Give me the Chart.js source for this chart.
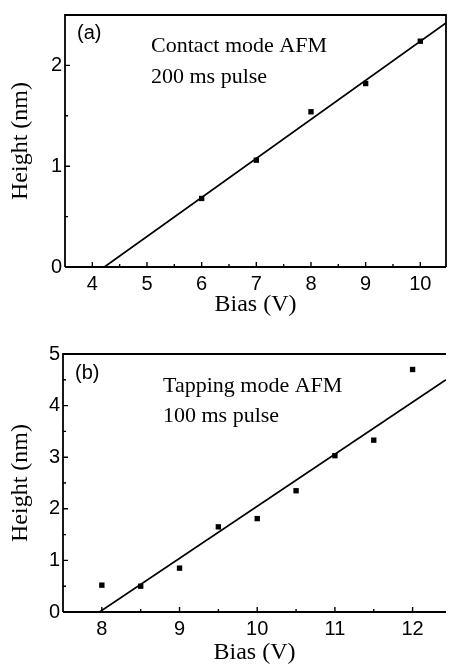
<!DOCTYPE html>
<html>
<head>
<meta charset="utf-8">
<script src="https://cdn.jsdelivr.net/npm/chart.js@4"></script>
<style>
  html, body { margin: 0; padding: 0; background: #fff; }
  .panel { position: absolute; left: 0; width: 450px; }
</style>
</head>
<body>
<div class="panel" style="top:0;height:320px"><canvas id="chartA"></canvas></div>
<div class="panel" style="top:320px;height:348px"><canvas id="chartB"></canvas></div>
<script>
// panel (a): contact mode AFM, 200 ms pulse
const biasA = [6, 7, 8, 9, 10];
const heightA = [0.68, 1.06, 1.54, 1.82, 2.24];
const fitA = [{ x: 4.22, y: 0 }, { x: 10.47, y: 2.42 }];
const xTicksA = [4, 5, 6, 7, 8, 9, 10];
const xMinorA = [4.5, 5.5, 6.5, 7.5, 8.5, 9.5];
const yTicksA = [0, 1, 2];
const yMinorA = [0.5, 1.5];

// panel (b): tapping mode AFM, 100 ms pulse
const biasB = [8, 8.5, 9, 9.5, 10, 10.5, 11, 11.5, 12];
const heightB = [0.52, 0.5, 0.85, 1.65, 1.81, 2.35, 3.03, 3.33, 4.7];
const fitB = [{ x: 7.97, y: 0 }, { x: 12.43, y: 4.5 }];
const xTicksB = [8, 9, 10, 11, 12];
const xMinorB = [8.5, 9.5, 10.5, 11.5];
const yTicksB = [0, 1, 2, 3, 4, 5];
const yMinorB = [0.5, 1.5, 2.5, 3.5, 4.5];

const SERIF = "'Liberation Serif', 'Times New Roman', serif";
const SANS = "'Liberation Sans', Arial, sans-serif";

// box, inward ticks and the text notes
const framePlugin = {
  id: 'frame',
  afterDatasetsDraw(chart, args, opts) {
    const { ctx, chartArea: a, scales: { x, y } } = chart;
    ctx.save();
    ctx.strokeStyle = '#000';
    ctx.lineWidth = 1.8;
    ctx.beginPath();
    ctx.moveTo(a.left, a.bottom);
    ctx.lineTo(a.left, a.top);
    ctx.lineTo(a.right, a.top);
    if (opts.rightBorder) ctx.lineTo(a.right, a.bottom);
    ctx.moveTo(a.left, a.bottom);
    ctx.lineTo(a.right, a.bottom);
    ctx.stroke();

    ctx.lineWidth = 1.4;
    ctx.beginPath();
    const tick = (vals, len) => {
      vals.forEach(v => {
        const px = x.getPixelForValue(v);
        ctx.moveTo(px, a.bottom);
        ctx.lineTo(px, a.bottom - len);
      });
    };
    const ytick = (vals, len) => {
      vals.forEach(v => {
        const py = y.getPixelForValue(v);
        ctx.moveTo(a.left, py);
        ctx.lineTo(a.left + len, py);
      });
    };
    tick(opts.xMajor, 5);
    tick(opts.xMinor, 3);
    ytick(opts.yMajor, 5);
    ytick(opts.yMinor, 3);
    ctx.stroke();

    ctx.fillStyle = '#000';
    ctx.textBaseline = 'middle';
    ctx.textAlign = 'left';
    opts.notes.forEach(n => {
      ctx.font = n.font;
      ctx.fillText(n.text, a.left + n.dx, a.top + n.dy);
    });
    ctx.restore();
  }
};

function makeChart(id, pts, fit, lim, frame, box) {
  const ctx = document.getElementById(id).getContext('2d');
  return new Chart(ctx, {
    type: 'scatter',
    data: {
      datasets: [
        {
          data: pts,
          pointStyle: 'rect',
          radius: 3.8,
          backgroundColor: '#000',
          borderColor: '#000',
          borderWidth: 0,
        },
        {
          type: 'line',
          data: fit,
          borderColor: '#000',
          borderWidth: 1.7,
          pointRadius: 0,
          fill: false,
        },
      ],
    },
    options: {
      responsive: true,
      maintainAspectRatio: false,
      animation: false,
      events: [],
      layout: { padding: { top: box.top, right: box.right, left: 0, bottom: 0 } },
      plugins: {
        legend: { display: false },
        tooltip: { enabled: false },
        frame: frame,
      },
      scales: {
        x: {
          type: 'linear',
          min: lim.xMin,
          max: lim.xMax,
          grid: { display: false, drawTicks: false },
          border: { display: false },
          afterBuildTicks: s => { s.ticks = frame.xMajor.map(v => ({ value: v })); },
          afterFit: s => { s.height = box.xAxisH; },
          ticks: { color: '#000', padding: 5, maxRotation: 0, font: { family: SANS, size: 20 } },
          title: {
            display: true,
            text: 'Bias (V)',
            color: '#000',
            padding: { top: 0, bottom: 1 },
            font: { family: SERIF, size: 24 },
          },
        },
        y: {
          type: 'linear',
          min: lim.yMin,
          max: lim.yMax,
          grid: { display: false, drawTicks: false },
          border: { display: false },
          afterBuildTicks: s => { s.ticks = frame.yMajor.map(v => ({ value: v })); },
          afterFit: s => { s.width = box.yAxisW; },
          ticks: { color: '#000', padding: 3, font: { family: SANS, size: 20 } },
          title: {
            display: true,
            text: 'Height (nm)',
            color: '#000',
            padding: { top: 6, bottom: 0 },
            font: { family: SERIF, size: 24 },
          },
        },
      },
    },
    plugins: [framePlugin],
  });
}

makeChart(
  'chartA',
  biasA.map((b, i) => ({ x: b, y: heightA[i] })),
  fitA,
  { xMin: 3.5, xMax: 10.47, yMin: 0, yMax: 2.5 },
  {
    xMajor: xTicksA, xMinor: xMinorA, yMajor: yTicksA, yMinor: yMinorA,
    rightBorder: true,
    notes: [
      { text: '(a)', dx: 12, dy: 18, font: '20px ' + SANS },
      { text: 'Contact mode AFM', dx: 86, dy: 31, font: '22px ' + SERIF },
      { text: '200 ms pulse', dx: 86, dy: 62, font: '22px ' + SERIF },
    ],
  },
  { top: 9, right: 4, xAxisH: 53, yAxisW: 65 }
);

makeChart(
  'chartB',
  biasB.map((b, i) => ({ x: b, y: heightB[i] })),
  fitB,
  { xMin: 7.5, xMax: 12.43, yMin: 0, yMax: 5 },
  {
    xMajor: xTicksB, xMinor: xMinorB, yMajor: yTicksB, yMinor: yMinorB,
    rightBorder: false,
    notes: [
      { text: '(b)', dx: 12, dy: 19, font: '20px ' + SANS },
      { text: 'Tapping mode AFM', dx: 100, dy: 32, font: '22px ' + SERIF },
      { text: '100 ms pulse', dx: 100, dy: 62, font: '22px ' + SERIF },
    ],
  },
  { top: 34, right: 0, xAxisH: 56, yAxisW: 63 }
);
</script>
</body>
</html>
